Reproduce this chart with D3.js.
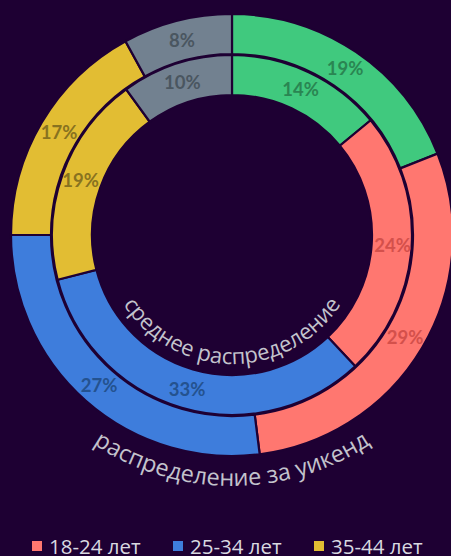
<!DOCTYPE html>
<html><head><meta charset="utf-8">
<script src="https://cdn.jsdelivr.net/npm/d3@7"></script>
<style>
html,body{margin:0;padding:0;background:#1e0033;overflow:hidden;}
svg{display:block;}
</style></head>
<body>
<svg id="chart" width="451" height="556"></svg>
<script>
const categories = ["13-17 лет", "18-24 лет", "25-34 лет", "35-44 лет", "45+ лет"];
const weekendValues = [19, 29, 27, 17, 8];   // outer ring: распределение за уикенд
const averageValues = [14, 24, 33, 19, 10];  // inner ring: среднее распределение
const ringTitles = ["среднее распределение", "распределение за уикенд"];

const colors = ["#40c97e", "#ff7770", "#3e7ddc", "#e2bd33", "#728190"];
const labelColors = ["#2a8552", "#d4504b", "#24528f", "#887220", "#4a5660"];
const bg = "#1e0033";

const W = 451, H = 556, cx = 232, cy = 235;
const svg = d3.select("#chart");
svg.append("rect").attr("width", W).attr("height", H).attr("fill", bg);
const g = svg.append("g").attr("transform", `translate(${cx},${cy})`);

const pie = d3.pie().sort(null).value(d => d);
const color = d3.scaleOrdinal().domain(d3.range(categories.length)).range(colors);

const rings = [
  {values: weekendValues, inner: 181, outer: 221, labelR: 201},
  {values: averageValues, inner: 140, outer: 180, labelR: 161}
];

rings.forEach(r => {
  const arc = d3.arc().innerRadius(r.inner).outerRadius(r.outer);
  const lab = d3.arc().innerRadius(r.labelR).outerRadius(r.labelR);
  const arcs = pie(r.values);
  g.append("g").selectAll("path").data(arcs).join("path")
    .attr("d", arc)
    .attr("fill", (d, i) => color(i))
    .attr("stroke", bg).attr("stroke-width", 2.2);
  g.append("g").selectAll("text").data(arcs).join("text")
    .attr("transform", d => `translate(${lab.centroid(d)})`)
    .attr("text-anchor", "middle").attr("dy", "0.36em")
    .attr("font-family", "Lato, 'Open Sans', sans-serif")
    .attr("font-weight", "bold").attr("font-size", 18.5)
    .attr("fill", (d, i) => labelColors[i])
    .text(d => d.data + "%");
});

// curved ring titles along the bottom
const titleRadii = [129, 251];
const titleSizes = [22, 23.5];
ringTitles.forEach((t, k) => {
  const r = titleRadii[k];
  const p = d3.path();
  p.arc(0, 0, r, Math.PI, 0, true);
  g.append("path").attr("id", "tp" + k).attr("d", p.toString()).attr("fill", "none");
  g.append("text")
    .attr("font-family", "'Open Sans', sans-serif")
    .attr("font-size", titleSizes[k])
    .attr("fill", "#c3c3cc")
    .append("textPath").attr("href", "#tp" + k)
    .attr("startOffset", "50%").attr("text-anchor", "middle")
    .text(t);
});

// legend
const lx = d3.scalePoint().domain(categories).range([229 - 282, 229 + 282]);
const legend = svg.append("g").attr("transform", "translate(0,546)");
const items = legend.selectAll("g").data(categories).join("g")
  .attr("transform", d => `translate(${lx(d) - 56},0)`);
items.append("rect").attr("x", 0).attr("y", -5).attr("width", 10).attr("height", 10)
  .attr("fill", (d, i) => colors[i]);
items.append("text").attr("x", 17).attr("y", 7.5)
  .attr("font-family", "'Open Sans', sans-serif").attr("font-size", 20.5)
  .attr("fill", "#d9d9e0").text(d => d);
</script>
</body></html>
